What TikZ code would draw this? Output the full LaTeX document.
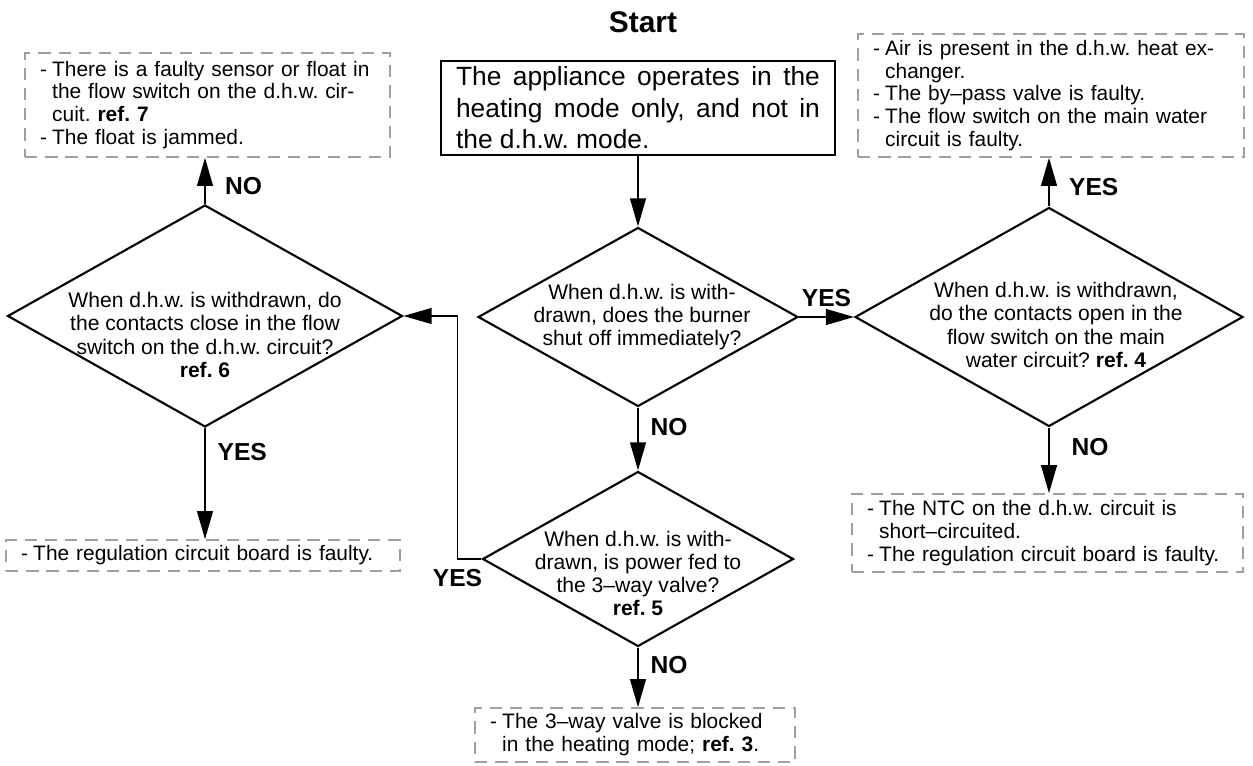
\documentclass[tikz,border=0pt]{standalone}
\usepackage{fontspec}
\setmainfont{Liberation Sans}
\usepackage{tikz}
\usetikzlibrary{arrows.meta, shapes.geometric, positioning}

\frenchspacing
\newcommand{\dashitem}{-\hspace{0.25em}}
\newcommand{\dashindent}{\hphantom{\dashitem}}

\begin{document}
\begin{tikzpicture}[x=0.02cm, y=-0.02cm, >={Triangle[length=16pt, width=9pt]},
    quest/.style={diamond, draw, line width=1.2pt, inner sep=0pt},
    qtext/.style={align=center, font=\fontsize{12}{13.2}\selectfont},
    cause/.style={draw=gray!75, line width=0.9pt, dash pattern=on 7pt off 4.5pt,
        align=left, inner xsep=0.3cm, inner ysep=0pt, font=\fontsize{11.9}{13}\selectfont},
    lbl/.style={font=\fontsize{14}{16}\selectfont\bfseries, inner sep=1pt},
    link/.style={->, line width=1pt}]
    % 0. Khung giữ đúng tỉ lệ ảnh
    \useasboundingbox (0,0) rectangle (1253,766);

    % 1. Tiêu đề và ô mô tả lỗi
    \node[font=\fontsize{17}{19}\selectfont\bfseries] (start) at (643,22) {Start};
    \node[draw, line width=1.4pt, minimum width=7.88cm, minimum height=1.88cm,
        text width=7.28cm, inner ysep=1pt, align=justify, font=\fontsize{15}{17.9}\selectfont]
        (mode) at (638,108) {The appliance operates in the\linebreak heating mode only, and not in\linebreak the d.h.w. mode.};

    % 2. Các hình thoi câu hỏi
    \node[quest, minimum width=6.4cm, minimum height=3.58cm,
        label={[qtext, xshift=0.08cm]center:{When d.h.w. is with-\\drawn, does the burner\\shut off immediately?}}]
        (burner) at (638,317) {};
    \node[quest, minimum width=6.22cm, minimum height=3.5cm,
        label={[qtext, yshift=-0.29cm]center:{When d.h.w. is with-\\drawn, is power fed to\\the 3--way valve?\\\textbf{ref. 5}}}]
        (power) at (638,559) {};
    \node[quest, minimum width=7.9cm, minimum height=4.44cm,
        label={[qtext, yshift=-0.38cm]center:{When d.h.w. is withdrawn, do\\the contacts close in the flow\\switch on the d.h.w. circuit?\\\textbf{ref. 6}}}]
        (flow) at (205,316) {};
    \node[quest, minimum width=7.76cm, minimum height=4.38cm,
        label={[qtext, xshift=0.14cm, yshift=-0.16cm]center:{When d.h.w. is withdrawn,\\do the contacts open in the\\flow switch on the main\\water circuit? \textbf{ref. 4}}}]
        (contacts) at (1049,317) {};

    % 3. Các ô nét đứt: nguyên nhân
    \node[cause, minimum width=7.3cm, minimum height=2.08cm, text width=6.7cm] (sensor) at (207.5,105)
        {\dashitem There is a faulty sensor or float in\\\dashindent the flow switch on the d.h.w. cir-\\\dashindent cuit. \textbf{ref. 7}\\\dashitem The float is jammed.};
    \node[cause, minimum width=7.72cm, minimum height=2.46cm, text width=7.12cm] (air) at (1051,95.5)
        {\dashitem Air is present in the d.h.w. heat ex-\\\dashindent changer.\\\dashitem The by--pass valve is faulty.\\\dashitem The flow switch on the main water\\\dashindent circuit is faulty.};
    \node[cause, minimum width=7.88cm, minimum height=0.62cm, text width=7.28cm] (board) at (203,555.5)
        {\dashitem The regulation circuit board is faulty.};
    \node[cause, minimum width=7.82cm, minimum height=1.56cm, text width=7.22cm] (ntc) at (1047.5,533)
        {\dashitem The NTC on the d.h.w. circuit is\\\dashindent short--circuited.\\\dashitem The regulation circuit board is faulty.};
    \node[cause, minimum width=6.4cm, minimum height=1.08cm, text width=5.8cm] (valve) at (635,735)
        {\dashitem The 3--way valve is blocked\\\dashindent in the heating mode; \textbf{ref. 3}.};

    % 4. Các mũi tên nối
    \draw[link] (mode.south) -- (burner.north);
    \draw[link] (burner.south) -- node[lbl, pos=0.31, right=0.2cm] {NO} (power.north);
    \draw[link] (burner.east) -- node[lbl, pos=0.5, above=0.15cm] {YES} (contacts.west);
    \draw[link] (power.south) -- node[lbl, pos=0.3, right=0.2cm] {NO} (power.south |- valve.north);
    \draw[link] (power.west) -- ++(-24,0) node[lbl, below=0.15cm] {YES} |- (flow.east);
    \draw[link] (flow.north) -- node[lbl, pos=0.38, right=0.35cm] {NO} (flow.north |- sensor.south);
    \draw[link] (flow.south) -- node[lbl, pos=0.22, right=0.2cm] {YES} (flow.south |- board.north);
    \draw[link] (contacts.north) -- node[lbl, pos=0.39, right=0.35cm] {YES} (contacts.north |- air.south);
    \draw[link] (contacts.south) -- node[lbl, pos=0.3, right=0.4cm] {NO} (contacts.south |- ntc.north);
\end{tikzpicture}
\end{document}
